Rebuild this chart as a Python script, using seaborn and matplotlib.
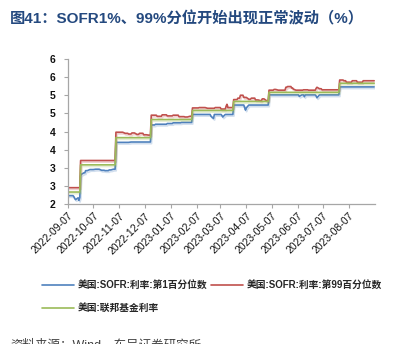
import numpy as np
import pandas as pd
import matplotlib
matplotlib.use("Agg")
import matplotlib.pyplot as plt
import matplotlib.patheffects as pe
from matplotlib.lines import Line2D
import seaborn as sns

# ---- data: change points (date, value); each value holds until the next date ----
start_date = "2022-09-07"
end_date = "2023-09-06"

ffr_dates = ["2022-09-07", "2022-09-22", "2022-11-03", "2022-12-15",
             "2023-02-02", "2023-03-23", "2023-05-04", "2023-07-27"]
ffr_vals = [2.33, 3.08, 3.83, 4.33, 4.58, 4.83, 5.08, 5.33]

p1_dates = ["2022-09-07", "2022-09-14", "2022-09-15", "2022-09-16", "2022-09-19",
            "2022-09-20", "2022-09-21", "2022-09-22", "2022-09-23", "2022-09-26",
            "2022-09-28", "2022-10-03", "2022-10-10", "2022-10-17", "2022-10-21",
            "2022-10-26", "2022-10-31", "2022-11-03", "2022-11-21", "2022-12-15",
            "2022-12-20", "2023-01-03", "2023-01-10", "2023-01-20", "2023-02-02",
            "2023-02-24", "2023-02-27", "2023-02-28", "2023-03-09", "2023-03-10",
            "2023-03-13", "2023-03-23", "2023-04-05", "2023-04-06", "2023-04-07",
            "2023-04-10", "2023-05-04", "2023-06-09", "2023-06-12", "2023-06-15",
            "2023-06-16", "2023-06-29", "2023-06-30", "2023-07-03", "2023-07-27"]
p1_vals = [2.23, 2.20, 2.15, 2.12, 2.17, 2.10, 2.18, 2.78, 2.82, 2.86,
           2.92, 2.95, 2.96, 2.93, 2.92, 2.94, 2.96, 3.70, 3.71, 4.18,
           4.20, 4.22, 4.24, 4.25, 4.47, 4.42, 4.36, 4.47, 4.44, 4.40,
           4.47, 4.73, 4.66, 4.59, 4.65, 4.73, 5.01, 4.97, 5.01, 4.96,
           5.01, 4.98, 4.93, 5.01, 5.23]

p99_dates = ["2022-09-07", "2022-09-22", "2022-11-03", "2022-11-14", "2022-11-18",
             "2022-11-22", "2022-11-28", "2022-12-01", "2022-12-06", "2022-12-12",
             "2022-12-15", "2022-12-22", "2022-12-28", "2023-01-03", "2023-01-10",
             "2023-01-17", "2023-01-24", "2023-01-30", "2023-02-02", "2023-02-10",
             "2023-02-20", "2023-03-01", "2023-03-08", "2023-03-14", "2023-03-15",
             "2023-03-16", "2023-03-23", "2023-03-28", "2023-03-31", "2023-04-04",
             "2023-04-10", "2023-04-13", "2023-04-18", "2023-04-24", "2023-04-26",
             "2023-05-01", "2023-05-04", "2023-05-10", "2023-05-15", "2023-05-24",
             "2023-05-26", "2023-05-31", "2023-06-02", "2023-06-05", "2023-06-14",
             "2023-06-20", "2023-06-29", "2023-06-30", "2023-07-03", "2023-07-06",
             "2023-07-27", "2023-08-01", "2023-08-04", "2023-08-11", "2023-08-17",
             "2023-08-24"]
p99_vals = [2.45, 3.20, 3.98, 3.95, 3.93, 3.96, 3.92, 3.95, 3.91, 3.90,
            4.45, 4.42, 4.46, 4.43, 4.45, 4.41, 4.40, 4.42, 4.65, 4.66,
            4.64, 4.66, 4.62, 4.70, 4.75, 4.66, 4.88, 4.92, 5.00, 4.94,
            4.89, 4.92, 4.87, 4.85, 4.90, 4.85, 5.14, 5.16, 5.14, 5.22,
            5.24, 5.20, 5.17, 5.14, 5.15, 5.14, 5.19, 5.22, 5.18, 5.15,
            5.42, 5.40, 5.36, 5.40, 5.36, 5.40]

name_p1 = "美国:SOFR:利率:第1百分位数"
name_p99 = "美国:SOFR:利率:第99百分位数"
name_ffr = "美国:联邦基金利率"

y_ticks = [2.0, 2.5, 3.0, 3.5, 4.0, 4.5, 5.0, 5.5, 6.0]
y_ticklabels = ["2", "3", "3", "4", "4", "5", "5", "6", "6"]
x_ticks = ["2022-09-07", "2022-10-07", "2022-11-07", "2022-12-07", "2023-01-07",
           "2023-02-07", "2023-03-07", "2023-04-07", "2023-05-07", "2023-06-07",
           "2023-07-07", "2023-08-07"]

c_p1, c_p99, c_ffr = "#4F81BD", "#C0504D", "#9BBB59"

# ---- build daily series ----
days = pd.bdate_range(start_date, end_date)


def daily(dates, vals):
    s = pd.Series(vals, index=pd.to_datetime(dates))
    return s.reindex(days, method="ffill")


frames = []
for name, d, v in [(name_p1, p1_dates, p1_vals),
                   (name_p99, p99_dates, p99_vals),
                   (name_ffr, ffr_dates, ffr_vals)]:
    frames.append(pd.DataFrame({"date": days, "value": daily(d, v).values, "series": name}))
df = pd.concat(frames, ignore_index=True)

# ---- figure ----
sns.set_theme(style="white")
plt.rcParams["font.family"] = ["Liberation Sans", "Noto Sans CJK SC", "DejaVu Sans"]

fig = plt.figure(figsize=(4.18, 3.44), dpi=100)
ax = fig.add_axes([68 / 418, 1 - 204 / 344, (375 - 68) / 418, (204 - 59) / 344])

sns.lineplot(data=df, x="date", y="value", hue="series",
             hue_order=[name_p1, name_p99, name_ffr],
             palette=[c_p1, c_p99, c_ffr], linewidth=1.2, ax=ax, legend=False)

for line in ax.get_lines():
    line.set_path_effects([pe.SimpleLineShadow(offset=(0.8, -1.2),
                                               shadow_color=line.get_color(), alpha=0.25),
                           pe.Normal()])

ax.set_ylim(2, 6)
ax.set_yticks(y_ticks)
ax.set_yticklabels(y_ticklabels, fontsize=7.5, fontweight="bold")
ax.set_xlim(pd.Timestamp("2022-09-07"), pd.Timestamp("2023-09-07"))
ax.set_xticks(pd.to_datetime(x_ticks))
ax.set_xticklabels(x_ticks, rotation=45, ha="right", rotation_mode="anchor", fontsize=7.5)
ax.set_xlabel("")
ax.set_ylabel("")

for side in ["top", "right"]:
    ax.spines[side].set_visible(False)
for side in ["left", "bottom"]:
    ax.spines[side].set_color("#A6A6A6")
    ax.spines[side].set_linewidth(0.9)
ax.tick_params(axis="both", which="major", bottom=True, left=True, direction="out",
               length=3, width=0.8, color="#A6A6A6", labelcolor="#111111", pad=2)
ax.tick_params(axis="y", pad=6)
ax.grid(False)

fig.text(10 / 418, 1 - 19 / 344, "图41：SOFR1%、99%分位开始出现正常波动（%）",
         fontsize=11, fontweight="bold", color="#24497F", va="center", ha="left")

handles = [Line2D([], [], color=c_p1, lw=1.2),
           Line2D([], [], color=c_ffr, lw=1.2),
           Line2D([], [], color=c_p99, lw=1.2)]
fig.legend(handles=handles, labels=[name_p1, name_ffr, name_p99], ncol=2,
           loc="upper left", bbox_to_anchor=(42 / 418, 1 - 280 / 344),
           frameon=False, prop=dict(size=7, weight="bold"),
           handlelength=3.3, handletextpad=0.4, columnspacing=0.3,
           labelspacing=1.35, borderaxespad=0, borderpad=0)

fig.text(10 / 418, 1 - 339 / 344, "资料来源：Wind，东吴证券研究所",
         fontsize=9, color="#404040", va="top", ha="left")

fig.savefig("out.png", dpi=100)
